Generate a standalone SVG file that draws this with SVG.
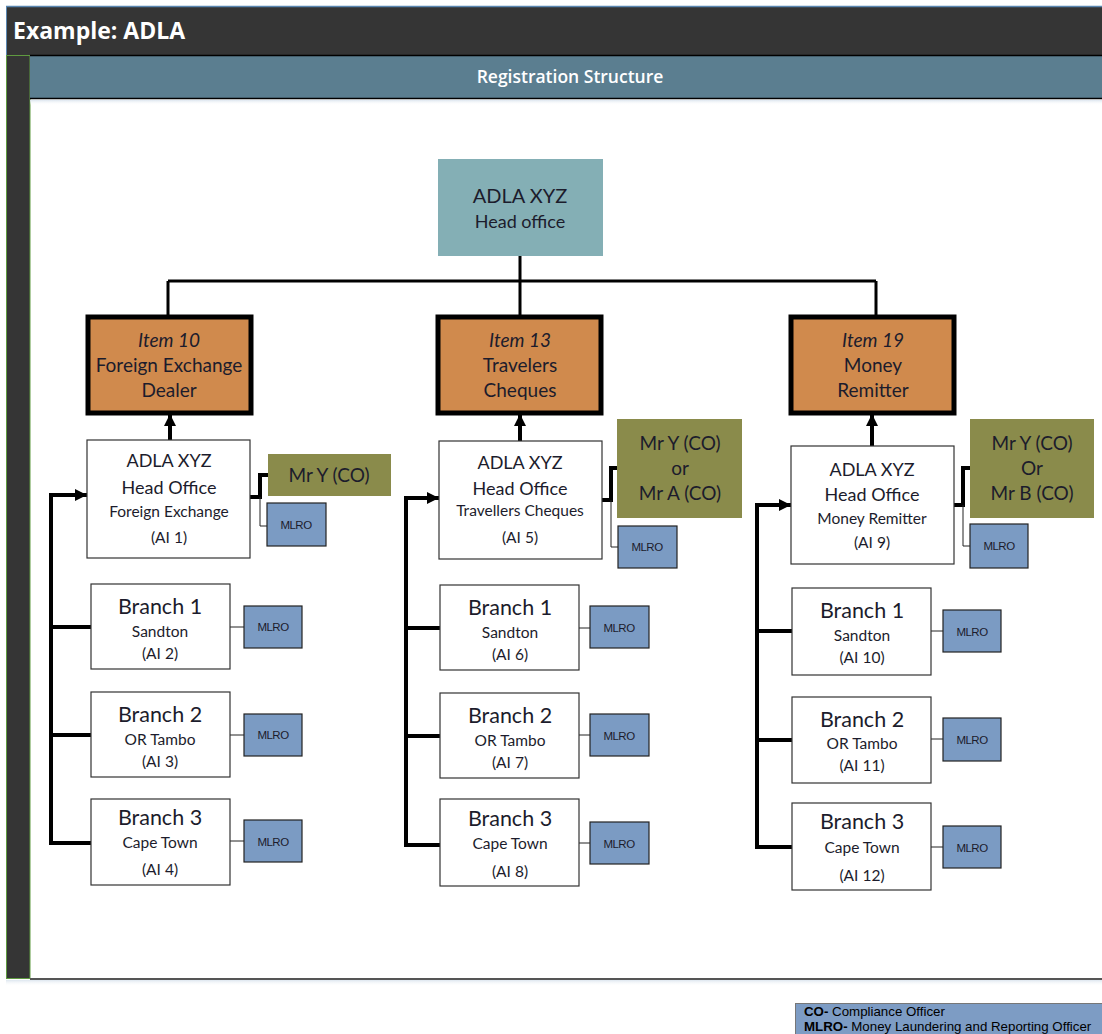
<svg xmlns="http://www.w3.org/2000/svg" width="1102" height="1034" viewBox="0 0 1102 1034">
<style>
text{font-family:Lato,"Open Sans","Liberation Sans",sans-serif;fill:#1c1c2c;text-anchor:middle}
.box{fill:#fff;stroke:#333;stroke-width:1.2}
.item{fill:#d08a4d;stroke:#000;stroke-width:5}
.co{fill:#8a8b4b}
.mlro{fill:#7b9bc3;stroke:#222;stroke-width:1.2}
.mt{font-size:11.5px;font-family:"Liberation Sans",Arial,sans-serif;letter-spacing:-0.5px}
.t20{font-size:21.5px}
.t19{font-size:19px}
.t18{font-size:18px}
.t14{font-size:15.5px}
.thick{stroke:#000;stroke-width:4;fill:none}
.mid{stroke:#000;stroke-width:3;fill:none}
.thin{stroke:#222;stroke-width:1;fill:none}
.lg{font-family:"Liberation Sans",Arial,sans-serif;font-size:13.3px;text-anchor:start;fill:#000}
</style>
<defs>
<marker id="ah" viewBox="0 0 10 10" refX="10" refY="5" markerWidth="12" markerHeight="12" markerUnits="userSpaceOnUse" orient="auto">
<path d="M0,0 L10,5 L0,10 z" fill="#000"/>
</marker>
<linearGradient id="sh" x1="0" y1="0" x2="0" y2="1"><stop offset="0" stop-color="#dde6ef"/><stop offset="1" stop-color="#fff" stop-opacity="0"/></linearGradient>
</defs>
<rect width="1102" height="1034" fill="#fff"/>
<!-- frame -->
<g id="frame">
<rect x="6" y="6" width="1096" height="49" fill="#353535"/>
<line x1="6" y1="6.5" x2="1102" y2="6.5" stroke="#5a86b0" stroke-width="1.5"/>
<line x1="6.5" y1="6" x2="6.5" y2="55" stroke="#5a86b0" stroke-width="1"/>
<text x="13" y="39" style="font-size:23px;font-weight:bold;fill:#fff;text-anchor:start;font-family:'Open Sans',Lato,sans-serif">Example: ADLA</text>
<rect x="6.5" y="55.5" width="23.5" height="923" fill="#353535" stroke="#5f9a40" stroke-width="1"/>
<rect x="30" y="56" width="1072" height="42" fill="#5b7e90"/>
<line x1="30" y1="55.5" x2="1102" y2="55.5" stroke="#000" stroke-width="1.5"/>
<line x1="30" y1="98.5" x2="1102" y2="98.5" stroke="#000" stroke-width="1.5"/>
<rect x="30" y="100" width="1072" height="5" fill="url(#sh)"/>
<text x="570" y="83" style="font-size:17.5px;fill:#fff;font-weight:600;font-family:'Open Sans',Lato,sans-serif">Registration Structure</text>
<line x1="30" y1="979" x2="1102" y2="979" stroke="#555" stroke-width="2"/>
<rect x="6" y="980" width="1096" height="6" fill="url(#sh)"/>
</g>
<!-- connectors -->
<g id="connectors">
<path class="mid" d="M520,256 V281 M168,281 H876 M168,281 V316 M520,281 V316 M876,281 V316"/>
<path class="thick" d="M170,440 V414" marker-end="url(#ah)"/>
<path class="thick" d="M520,441 V414" marker-end="url(#ah)"/>
<path class="thick" d="M872,446 V414" marker-end="url(#ah)"/>
<!-- left column -->
<path class="thick" d="M51,845 V495 H87" marker-end="url(#ah)"/>
<path class="thick" d="M51,627 H91 M51,735 H91 M51,843 H91"/>
<path class="thick" d="M250,497 H260 V475 H268"/>
<path class="thin" d="M260,497 V526 H267"/>
<path class="thin" d="M230,627 H244 M230,735 H244 M230,841 H244"/>
<!-- middle column -->
<path class="thick" d="M406,847 V498 H439" marker-end="url(#ah)"/>
<path class="thick" d="M406,628 H440 M406,736 H440 M406,845 H440"/>
<path class="thick" d="M602,500 H611 V468 H617"/>
<path class="thin" d="M611,500 V547 H618"/>
<path class="thin" d="M579,628 H590 M579,735 H590 M579,843 H590"/>
<!-- right column -->
<path class="thick" d="M757,849 V505 H791" marker-end="url(#ah)"/>
<path class="thick" d="M757,631 H792 M757,740 H792 M757,847 H792"/>
<path class="thick" d="M954,505 H963 V468 H970"/>
<path class="thin" d="M963,505 V546 H970"/>
<path class="thin" d="M931,631 H943 M931,739 H943 M931,847 H943"/>
</g>
<!-- top node -->
<g id="head-office">
<rect x="438" y="159" width="165" height="97" fill="#84afb5"/>
<text x="520" y="203" style="font-size:20px">ADLA XYZ</text>
<text x="520" y="228" class="t18">Head office</text>
</g>
<!-- item nodes -->
<g id="item10">
<rect class="item" x="88" y="317" width="163" height="96"/>
<text x="169" y="347" class="t19" font-style="italic">Item 10</text>
<text x="169" y="372" class="t19">Foreign Exchange</text>
<text x="169" y="397" class="t19">Dealer</text>
</g>
<g id="item13">
<rect class="item" x="438" y="317" width="163" height="96"/>
<text x="520" y="347" class="t19" font-style="italic">Item 13</text>
<text x="520" y="372" class="t19">Travelers</text>
<text x="520" y="397" class="t19">Cheques</text>
</g>
<g id="item19">
<rect class="item" x="791" y="317" width="163" height="96"/>
<text x="873" y="347" class="t19" font-style="italic">Item 19</text>
<text x="873" y="372" class="t19">Money</text>
<text x="873" y="397" class="t19">Remitter</text>
</g>
<!-- head office AI nodes -->
<g id="ai1">
<rect class="box" x="87" y="440" width="163" height="118"/>
<text x="169" y="467" class="t18">ADLA XYZ</text>
<text x="169" y="494" class="t18">Head Office</text>
<text x="169" y="517" class="t14">Foreign Exchange</text>
<text x="169" y="543" class="t14">(AI 1)</text>
</g>
<g id="ai5">
<rect class="box" x="439" y="441" width="163" height="118"/>
<text x="520" y="469" class="t18">ADLA XYZ</text>
<text x="520" y="495" class="t18">Head Office</text>
<text x="520" y="516" class="t14">Travellers Cheques</text>
<text x="520" y="543" class="t14">(AI 5)</text>
</g>
<g id="ai9">
<rect class="box" x="791" y="446" width="163" height="118"/>
<text x="872" y="476" class="t18">ADLA XYZ</text>
<text x="872" y="501" class="t18">Head Office</text>
<text x="872" y="524" class="t14">Money Remitter</text>
<text x="872" y="548" class="t14">(AI 9)</text>
</g>
<!-- compliance officers -->
<g id="co1">
<rect class="co" x="268" y="454" width="123" height="42"/>
<text x="329" y="482" class="t19">Mr Y (CO)</text>
</g>
<g id="co2">
<rect class="co" x="617" y="419" width="125" height="99"/>
<text x="680" y="450" class="t19">Mr Y (CO)</text>
<text x="680" y="475" class="t19">or</text>
<text x="680" y="500" class="t19">Mr A (CO)</text>
</g>
<g id="co3">
<rect class="co" x="970" y="419" width="124" height="99"/>
<text x="1032" y="450" class="t19">Mr Y (CO)</text>
<text x="1032" y="475" class="t19">Or</text>
<text x="1032" y="500" class="t19">Mr B (CO)</text>
</g>
<!-- MLRO for head offices -->
<g id="mlro-ai1"><rect class="mlro" x="267" y="503" width="59" height="43"/><text x="296" y="529" class="mt">MLRO</text></g>
<g id="mlro-ai5"><rect class="mlro" x="618" y="526" width="59" height="42"/><text x="647" y="551" class="mt">MLRO</text></g>
<g id="mlro-ai9"><rect class="mlro" x="970" y="524" width="58" height="44"/><text x="999" y="550" class="mt">MLRO</text></g>
<!-- left branches -->
<g id="ai2">
<rect class="box" x="91" y="584" width="139" height="85"/>
<text x="160" y="614" class="t20">Branch 1</text>
<text x="160" y="637" class="t14">Sandton</text>
<text x="160" y="659" class="t14">(AI 2)</text>
</g>
<g id="mlro-ai2"><rect class="mlro" x="244" y="606" width="58" height="42"/><text x="273" y="631" class="mt">MLRO</text></g>
<g id="ai3">
<rect class="box" x="91" y="692" width="139" height="85"/>
<text x="160" y="722" class="t20">Branch 2</text>
<text x="160" y="745" class="t14">OR Tambo</text>
<text x="160" y="767" class="t14">(AI 3)</text>
</g>
<g id="mlro-ai3"><rect class="mlro" x="244" y="714" width="58" height="42"/><text x="273" y="739" class="mt">MLRO</text></g>
<g id="ai4">
<rect class="box" x="91" y="799" width="139" height="86"/>
<text x="160" y="825" class="t20">Branch 3</text>
<text x="160" y="848" class="t14">Cape Town</text>
<text x="160" y="875" class="t14">(AI 4)</text>
</g>
<g id="mlro-ai4"><rect class="mlro" x="244" y="820" width="58" height="42"/><text x="273" y="846" class="mt">MLRO</text></g>
<!-- middle branches -->
<g id="ai6">
<rect class="box" x="440" y="585" width="139" height="85"/>
<text x="510" y="615" class="t20">Branch 1</text>
<text x="510" y="638" class="t14">Sandton</text>
<text x="510" y="660" class="t14">(AI 6)</text>
</g>
<g id="mlro-ai6"><rect class="mlro" x="590" y="606" width="59" height="42"/><text x="619" y="632" class="mt">MLRO</text></g>
<g id="ai7">
<rect class="box" x="440" y="693" width="139" height="85"/>
<text x="510" y="723" class="t20">Branch 2</text>
<text x="510" y="746" class="t14">OR Tambo</text>
<text x="510" y="768" class="t14">(AI 7)</text>
</g>
<g id="mlro-ai7"><rect class="mlro" x="590" y="714" width="59" height="42"/><text x="619" y="740" class="mt">MLRO</text></g>
<g id="ai8">
<rect class="box" x="440" y="799" width="139" height="87"/>
<text x="510" y="826" class="t20">Branch 3</text>
<text x="510" y="849" class="t14">Cape Town</text>
<text x="510" y="877" class="t14">(AI 8)</text>
</g>
<g id="mlro-ai8"><rect class="mlro" x="590" y="822" width="59" height="42"/><text x="619" y="848" class="mt">MLRO</text></g>
<!-- right branches -->
<g id="ai10">
<rect class="box" x="792" y="588" width="139" height="87"/>
<text x="862" y="618" class="t20">Branch 1</text>
<text x="862" y="641" class="t14">Sandton</text>
<text x="862" y="663" class="t14">(AI 10)</text>
</g>
<g id="mlro-ai10"><rect class="mlro" x="943" y="610" width="58" height="42"/><text x="972" y="636" class="mt">MLRO</text></g>
<g id="ai11">
<rect class="box" x="792" y="697" width="139" height="86"/>
<text x="862" y="727" class="t20">Branch 2</text>
<text x="862" y="749" class="t14">OR Tambo</text>
<text x="862" y="771" class="t14">(AI 11)</text>
</g>
<g id="mlro-ai11"><rect class="mlro" x="943" y="718" width="58" height="43"/><text x="972" y="744" class="mt">MLRO</text></g>
<g id="ai12">
<rect class="box" x="792" y="803" width="139" height="87"/>
<text x="862" y="829" class="t20">Branch 3</text>
<text x="862" y="853" class="t14">Cape Town</text>
<text x="862" y="881" class="t14">(AI 12)</text>
</g>
<g id="mlro-ai12"><rect class="mlro" x="943" y="826" width="58" height="42"/><text x="972" y="852" class="mt">MLRO</text></g>
<!-- legend -->
<g id="legend">
<rect x="795.5" y="1003.5" width="310" height="34" fill="#7d9cc4" stroke="#777" stroke-width="1"/>
<text x="804" y="1016" class="lg"><tspan font-weight="bold">CO-</tspan> Compliance Officer</text>
<text x="804" y="1031" class="lg"><tspan font-weight="bold">MLRO-</tspan> Money Laundering and Reporting Officer</text>
</g>
</svg>
